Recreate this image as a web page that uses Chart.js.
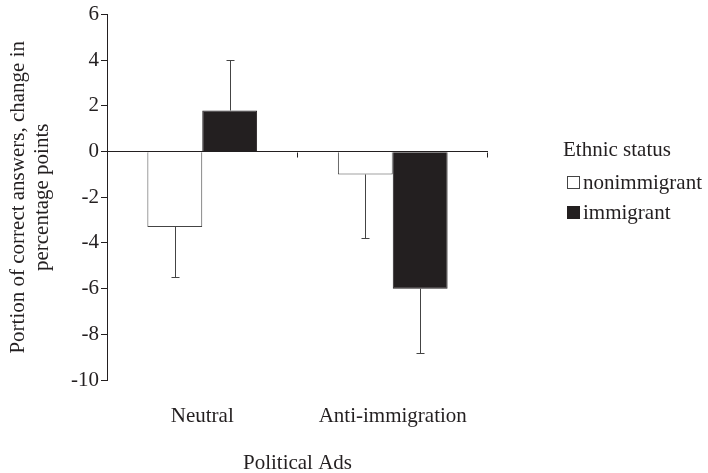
<!DOCTYPE html>
<html>
<head>
<meta charset="utf-8">
<script src="https://cdn.jsdelivr.net/npm/chart.js@4.4.0/dist/chart.umd.min.js"></script>
<style>
    html, body { margin: 0; padding: 0; background: #fff; }
    #wrap { width: 708px; height: 473px; }
</style>
</head>
<body>
<div id="wrap"><canvas id="chart" width="708" height="473"></canvas></div>
<script>
// Chart data (change in percentage points)
const categories = ['Neutral', 'Anti-immigration'];
const seriesNames = ['nonimmigrant', 'immigrant'];
const nonimmigrantValues = [-3.3, -1.0];
const immigrantValues = [1.8, -6.0];
// error bar lengths, drawn away from zero
const nonimmigrantErrors = [2.2, 2.8];
const immigrantErrors = [2.2, 2.8];
const yMin = -10;
const yMax = 6;
const yStep = 2;

const INK = '#231f20';
const FONT = { family: "'Liberation Serif', 'Times New Roman', serif", size: 21 };

/**
 * Draw one-sided error bars at the end of each bar
 */
const errorBarPlugin = {
    id: 'errorBars',
    afterDatasetsDraw(chart) {
        const ctx = chart.ctx;
        const y = chart.scales.y;
        ctx.save();
        ctx.strokeStyle = '#444';
        ctx.lineWidth = 1;
        chart.data.datasets.forEach((ds, d) => {
            const meta = chart.getDatasetMeta(d);
            meta.data.forEach((bar, i) => {
                const v = ds.data[i];
                const e = ds.errors[i];
                const end = v >= 0 ? v + e : v - e;
                const x = Math.round(bar.x) + 0.5;
                const y0 = y.getPixelForValue(v);
                const y1 = Math.round(y.getPixelForValue(end)) + 0.5;
                ctx.beginPath();
                ctx.moveTo(x, y0);
                ctx.lineTo(x, y1);
                ctx.moveTo(x - 4, y1);
                ctx.lineTo(x + 4, y1);
                ctx.stroke();
            });
        });
        ctx.restore();
    }
};

/**
 * Small tick marks under the zero line between categories
 */
const categoryTickPlugin = {
    id: 'categoryTicks',
    afterDatasetsDraw(chart) {
        const ctx = chart.ctx;
        const x = chart.scales.x;
        const zeroY = Math.round(chart.scales.y.getPixelForValue(0)) + 0.5;
        ctx.save();
        ctx.strokeStyle = INK;
        ctx.lineWidth = 1;
        for (let i = 0; i < categories.length; i++) {
            const px = Math.round(x.getPixelForValue(i + 0.5)) - 0.5;
            ctx.beginPath();
            ctx.moveTo(px, zeroY);
            ctx.lineTo(px, zeroY + 5);
            ctx.stroke();
        }
        ctx.restore();
    }
};

/**
 * Legend on the right with a title
 */
const sideLegendPlugin = {
    id: 'sideLegend',
    afterDraw(chart) {
        const ctx = chart.ctx;
        ctx.save();
        ctx.font = `${FONT.size}px ${FONT.family}`;
        ctx.fillStyle = INK;
        ctx.textBaseline = 'alphabetic';
        ctx.textAlign = 'left';
        ctx.fillText('Ethnic status', 563, 156);
        chart.data.datasets.forEach((ds, d) => {
            const top = 176 + d * 30;
            ctx.fillStyle = ds.backgroundColor;
            ctx.fillRect(567, top, 13, 13);
            ctx.strokeStyle = ds.borderColor;
            ctx.lineWidth = 1;
            ctx.strokeRect(567.5, top + 0.5, 12, 12);
            ctx.fillStyle = INK;
            ctx.fillText(ds.label, 583, top + 13);
        });
        ctx.restore();
    }
};

const yTitle = ['Portion of correct answers, change in', 'percentage points'];

new Chart(document.getElementById('chart'), {
    type: 'bar',
    data: {
        labels: categories,
        datasets: [{
            label: seriesNames[0],
            data: nonimmigrantValues,
            errors: nonimmigrantErrors,
            backgroundColor: '#ffffff',
            borderColor: '#444444',
            borderWidth: 1
        }, {
            label: seriesNames[1],
            data: immigrantValues,
            errors: immigrantErrors,
            backgroundColor: INK,
            borderColor: INK,
            borderWidth: 1
        }]
    },
    options: {
        responsive: false,
        animation: false,
        devicePixelRatio: 1,
        categoryPercentage: 0.576,
        barPercentage: 1,
        layout: { padding: { top: 12, right: 220, left: 0, bottom: 0 } },
        plugins: {
            legend: { display: false },
            tooltip: { enabled: false }
        },
        scales: {
            x: {
                grid: { display: false, drawTicks: false },
                border: { display: false },
                ticks: { font: FONT, color: INK, padding: 24, maxRotation: 0 },
                title: { display: true, text: 'Political Ads', font: FONT, color: INK, padding: { top: 0, bottom: -3 } },
                afterFit: (s) => { s.height = 93; }
            },
            y: {
                min: yMin,
                max: yMax,
                ticks: { stepSize: yStep, font: FONT, color: INK, padding: 2 },
                grid: {
                    color: (c) => (c.tick && c.tick.value === 0 ? INK : 'rgba(0,0,0,0)'),
                    tickColor: INK,
                    tickLength: 6,
                    lineWidth: 1
                },
                border: { color: INK, width: 1 },
                title: {
                    display: true,
                    text: yTitle,
                    font: { ...FONT, lineHeight: 1.15 },
                    color: INK,
                    padding: { top: 6, bottom: 0 }
                },
                afterFit: (s) => { s.width = 107; }
            }
        }
    },
    plugins: [errorBarPlugin, categoryTickPlugin, sideLegendPlugin]
});
</script>
</body>
</html>
